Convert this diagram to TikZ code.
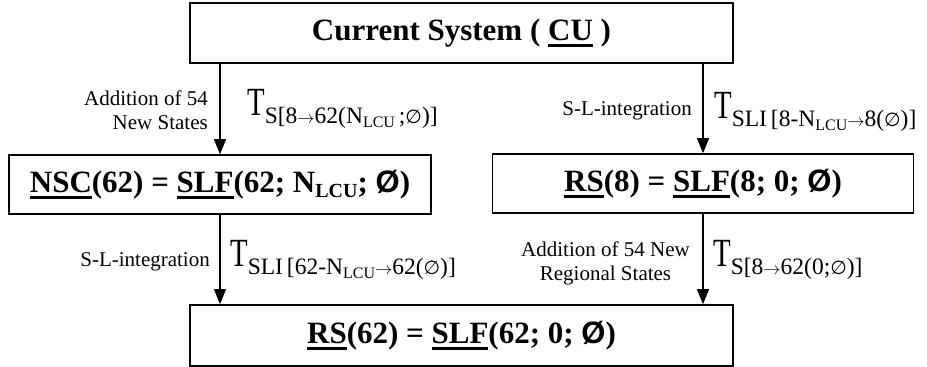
\documentclass[tikz,border=0pt]{standalone}
\usepackage{fontspec}
\usepackage{graphicx}
\setmainfont{Liberation Serif}
\newfontfamily\symfam{DejaVu Sans}
\newfontfamily\oslfam{Liberation Sans}
\usetikzlibrary{arrows.meta}

% thick underline used for the state names
\newsavebox\ulbox
\newcommand\ul[1]{\sbox\ulbox{#1}\rlap{\rule[-6.5pt]{\wd\ulbox}{3pt}}\usebox\ulbox}
% bold slashed O
\newcommand\bempty{{\oslfam\bfseries Ø}}
% thin empty-set sign and arrow
\newcommand\es{{\symfam\fontsize{19}{20}\selectfont ∅}}
\newcommand\ar{{\fontsize{19}{20}\selectfont$\rightarrow$}}
% N with the LCU index, plain and bold
\newcommand\nlcu{N\raisebox{-4pt}{\fontsize{16}{17}\selectfont LCU}}
\newcommand\bnlcu{N\raisebox{-5pt}{\fontsize{20}{21}\selectfont LCU}}
% transition symbol T with its index
\newcommand\Tlab[1]{{\fontsize{40}{42}\selectfont\scalebox{0.72}[1]{T}}\raisebox{-8pt}{\fontsize{23.5}{25}\selectfont #1}}

\tikzset{
  statebox/.style={draw, line width=1.6pt, inner sep=0pt,
    font=\fontsize{31}{33}\selectfont\bfseries},
  arr/.style={line width=1.2pt, -{Triangle[width=12pt,length=15pt]}},
  side/.style={inner sep=0pt, font=\fontsize{21}{24}\selectfont},
  tr/.style={inner sep=0pt, anchor=base west},
}

\begin{document}
\begin{tikzpicture}[x=1pt,y=-1pt]
\useasboundingbox (0,0) rectangle (927,367);

\node[statebox, minimum width=543pt, minimum height=60pt] (cu) at (461.5,33)
  {Current System ( \ul{CU} )};
\node[statebox, minimum width=422pt, minimum height=59pt] (nsc) at (220,184.5)
  {\ul{NSC}(62) = \ul{SLF}(62; \bnlcu; \bempty)};
\node[statebox, minimum width=421pt, minimum height=59pt] (rs8) at (703,183.5)
  {\ul{RS}(8) = \ul{SLF}(8; 0; \bempty)};
\node[statebox, minimum width=543pt, minimum height=61pt] (rs62) at (461.5,335.5)
  {\ul{RS}(62) = \ul{SLF}(62; 0; \bempty)};

% transitions
\draw[arr] (cu.south -| nsc.north) -- (nsc.north);
\draw[arr] (cu.south -| rs8.north) -- (rs8.north);
\draw[arr] (nsc.south) -- (nsc.south |- rs62.north);
\draw[arr] (rs8.south) -- (rs8.south |- rs62.north);

% upper left
\node[side, anchor=east, align=right] (l1) at (208,110.5) {Addition of 54\\New States};
\node[tr] (t1) at (247,115) {\Tlab{S[8\ar62(\nlcu\,;\es)]}};
% upper right
\node[side, anchor=east] (l2) at (692,111) {S-L-integration};
\node[tr] (t2) at (714,118) {\Tlab{SLI\,[8-\nlcu\ar8(\es)]}};
% lower left
\node[side, anchor=east] (l3) at (210,262) {S-L-integration};
\node[tr] (t3) at (230,266) {\Tlab{SLI\,[62-\nlcu\ar62(\es)]}};
% lower right
\node[side, anchor=east, align=center] (l4) at (690,263) {Addition of 54 New\\Regional States};
\node[tr] (t4) at (713,266) {\Tlab{S[8\ar62(0;\es)]}};
\end{tikzpicture}
\end{document}
